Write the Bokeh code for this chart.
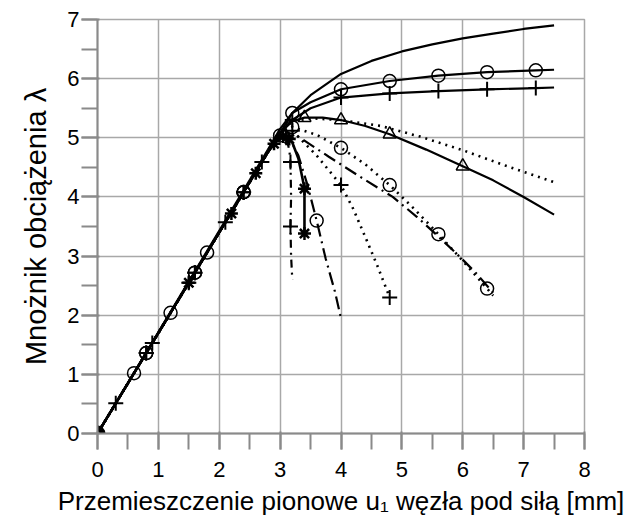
from bokeh.plotting import figure
from bokeh.models import Range1d, SingleIntervalTicker
from bokeh.embed import file_html
from bokeh.resources import INLINE

# ---- data ----
# 1: solid, no markers (top)
c1_x = [0, 2.8, 3.0, 3.2, 3.5, 4.0, 4.5, 5.0, 5.5, 6.0, 6.5, 7.0, 7.5]
c1_y = [0, 4.8, 5.15, 5.42, 5.72, 6.08, 6.3, 6.46, 6.58, 6.68, 6.76, 6.84, 6.9]

# 2: solid with circles
c2_x = [0, 2.8, 3.0, 3.2, 3.5, 4.0, 4.8, 5.6, 6.4, 7.2, 7.5]
c2_y = [0, 4.76, 5.08, 5.42, 5.6, 5.82, 5.96, 6.05, 6.11, 6.14, 6.15]
c2_mx = [0, 0.8, 1.6, 2.4, 3.2, 4.0, 4.8, 5.6, 6.4, 7.2]
c2_my = [0, 1.36, 2.72, 4.08, 5.42, 5.82, 5.96, 6.05, 6.11, 6.14]

# 3: solid with crosses
c3_x = [0, 2.8, 3.0, 3.2, 3.5, 4.0, 4.8, 5.6, 6.4, 7.2, 7.5]
c3_y = [0, 4.76, 5.08, 5.3, 5.5, 5.68, 5.75, 5.79, 5.82, 5.84, 5.85]
c3_mx = [0, 0.8, 1.6, 2.4, 3.2, 4.0, 4.8, 5.6, 6.4, 7.2]
c3_my = [0, 1.36, 2.72, 4.08, 5.3, 5.68, 5.75, 5.79, 5.82, 5.84]

# 4: solid with triangles
c4_x = [0, 2.8, 3.0, 3.2, 3.4, 3.7, 4.0, 4.4, 4.8, 5.4, 6.0, 6.5, 7.0, 7.5]
c4_y = [0, 4.76, 5.08, 5.28, 5.34, 5.34, 5.3, 5.2, 5.06, 4.8, 4.52, 4.28, 4.0, 3.7]
c4_mx = [0, 3.4, 4.0, 4.8, 6.0]
c4_my = [0, 5.34, 5.3, 5.06, 4.52]

# 5: dotted, no markers
c5_x = [0, 2.8, 3.0, 3.2, 3.5, 4.0, 4.65, 5.3, 6.0, 6.7, 7.5]
c5_y = [0, 4.76, 5.08, 5.28, 5.33, 5.3, 5.2, 5.02, 4.79, 4.53, 4.25]

# 6: dotted with circles
c6_x = [0, 2.8, 3.0, 3.2, 3.6, 4.0, 4.4, 4.8, 5.2, 5.6, 6.0, 6.4, 6.5]
c6_y = [0, 4.76, 5.08, 5.18, 5.05, 4.83, 4.55, 4.2, 3.8, 3.37, 2.92, 2.45, 2.33]
c6_mx = [0, 0.8, 1.6, 2.4, 3.2, 4.0, 4.8, 5.6, 6.4]
c6_my = [0, 1.36, 2.72, 4.08, 5.18, 4.83, 4.2, 3.37, 2.45]

# 7: dash-dot, no markers
c7_x = [0, 2.8, 3.0, 3.3, 3.8, 4.3, 4.85, 5.25, 5.6, 5.96, 6.23, 6.5]
c7_y = [0, 4.76, 5.06, 5.02, 4.68, 4.35, 4.0, 3.66, 3.33, 2.98, 2.7, 2.38]

# 8: dotted with crosses
c8_x = [0, 2.8, 3.0, 3.2, 3.6, 4.0, 4.2, 4.4, 4.6, 4.8]
c8_y = [0, 4.76, 5.08, 5.12, 4.7, 4.2, 3.8, 3.32, 2.83, 2.3]
c8_mx = [0, 0.8, 1.6, 2.4, 3.2, 4.0, 4.8]
c8_my = [0, 1.36, 2.72, 4.08, 5.12, 4.2, 2.3]

# 9: dash-dot with circles
c9_x = [0, 2.8, 3.0, 3.15, 3.3, 3.45, 3.6, 3.75, 3.9, 4.0]
c9_y = [0, 4.76, 5.04, 5.0, 4.7, 4.2, 3.6, 2.95, 2.4, 1.95]
c9_mx = [0, 0.6, 1.2, 1.8, 2.4, 3.0, 3.6]
c9_my = [0, 1.02, 2.04, 3.06, 4.08, 5.04, 3.6]

# 10: solid with stars
c10_x = [0, 2.8, 3.0, 3.1, 3.2, 3.3, 3.37, 3.4, 3.4]
c10_y = [0, 4.76, 5.02, 5.02, 4.92, 4.65, 4.3, 4.14, 3.38]
c10_mx = [0, 1.5, 2.2, 2.6, 2.9, 3.05, 3.15, 3.4, 3.4]
c10_my = [0, 2.55, 3.72, 4.4, 4.9, 5.02, 4.98, 4.14, 3.38]

# 11: short dash-dot with crosses
c11_x = [0, 2.8, 3.0, 3.1, 3.15, 3.17, 3.18, 3.17, 3.18, 3.2]
c11_y = [0, 4.76, 5.06, 5.0, 4.8, 4.59, 4.0, 3.5, 3.0, 2.6]
c11_mx = [0, 0.3, 0.9, 1.5, 2.1, 2.7, 3.1, 3.17, 3.17]
c11_my = [0, 0.51, 1.53, 2.55, 3.57, 4.59, 5.0, 4.59, 3.5]

x_ticks_interval = 1
y_ticks_interval = 1

FONT = "Liberation Sans"
GRID = "#a8a8a8"
AX = "#8a8a8a"

p = figure(width=633, height=518, x_range=Range1d(0, 8), y_range=Range1d(0, 7),
           output_backend="svg", toolbar_location=None,
           min_border_left=97, min_border_right=49, min_border_top=19, min_border_bottom=85)

p.background_fill_color = "white"
p.border_fill_color = "white"
p.outline_line_color = GRID
p.outline_line_width = 1.5

p.xaxis.ticker = SingleIntervalTicker(interval=x_ticks_interval, num_minor_ticks=2)
p.yaxis.ticker = SingleIntervalTicker(interval=y_ticks_interval, num_minor_ticks=2)
for ax in (p.xaxis, p.yaxis):
    ax.level = "overlay"
    ax.major_tick_out = 16
    ax.minor_tick_out = 16
    ax.major_tick_line_color = AX
    ax.minor_tick_line_color = AX
    ax.major_tick_line_width = 2
    ax.minor_tick_line_width = 2
    ax.axis_line_color = AX
    ax.axis_line_width = 2
    ax.major_label_text_font = FONT
    ax.major_label_text_font_size = "22px"
    ax.major_label_text_color = "black"
    ax.axis_label_text_font = FONT
    ax.axis_label_text_font_style = "normal"
    ax.axis_label_text_color = "black"

p.xaxis.axis_label_text_font_size = "26px"
p.yaxis.axis_label_text_font_size = "29px"
p.xaxis.major_label_standoff = 12
p.yaxis.major_label_standoff = 2
p.xaxis.axis_label_standoff = 6
p.yaxis.axis_label_standoff = 12
p.xaxis.axis_label = "Przemieszczenie pionowe u\u2081 w\u0119z\u0142a pod si\u0142\u0105 [mm]"
p.yaxis.axis_label = "Mno\u017cnik obci\u0105\u017cenia \u03bb"

for g in (p.xgrid, p.ygrid):
    g.ticker = SingleIntervalTicker(interval=1)
    g.grid_line_color = GRID
    g.grid_line_width = 1.5

LW = 2.2
# lines
p.line(c1_x, c1_y, line_color="black", line_width=LW)
p.line(c2_x, c2_y, line_color="black", line_width=LW)
p.line(c3_x, c3_y, line_color="black", line_width=LW)
p.line(c4_x, c4_y, line_color="black", line_width=LW)
p.line(c5_x, c5_y, line_color="black", line_width=2.6, line_dash="2 5")
p.line(c6_x, c6_y, line_color="black", line_width=2.6, line_dash="2 5")
p.line(c7_x, c7_y, line_color="black", line_width=2.2, line_dash="13 5 2 5")
p.line(c8_x, c8_y, line_color="black", line_width=2.6, line_dash="2 5")
p.line(c9_x, c9_y, line_color="black", line_width=2.2, line_dash="13 5 2 5")
p.line(c10_x, c10_y, line_color="black", line_width=2.6)
p.line(c11_x, c11_y, line_color="black", line_width=2.2, line_dash="8 5 2 5")

# markers
def circles(x, y):
    p.scatter(x, y, marker="circle", size=13, fill_alpha=0, line_color="black", line_width=1.5)

def crosses(x, y):
    p.scatter(x, y, marker="cross", size=15, line_color="black", line_width=2)

circles(c2_mx, c2_my)
circles(c6_mx, c6_my)
circles(c9_mx, c9_my)
crosses(c3_mx, c3_my)
crosses(c8_mx, c8_my)
crosses(c11_mx, c11_my)
p.scatter(c4_mx, c4_my, marker="triangle", size=13, fill_alpha=0, line_color="black", line_width=1.5)
p.scatter(c10_mx, c10_my, marker="asterisk", size=13, line_color="black", line_width=2.5)
p.scatter(c10_mx[:1], c10_my[:1], marker="circle", size=15, fill_color="black", line_color="black")

open("out.html", "w").write(file_html(p, INLINE))
